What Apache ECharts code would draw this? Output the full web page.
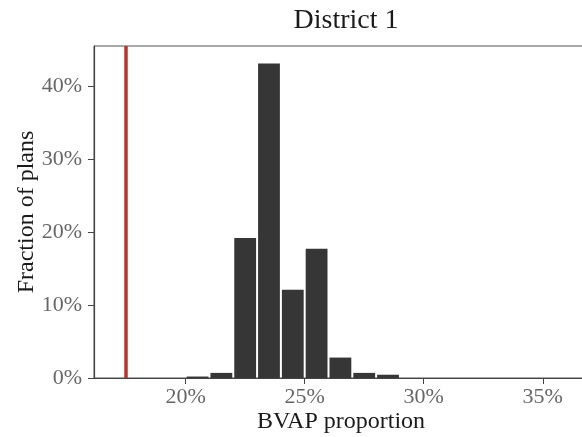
<!DOCTYPE html>
<html>
<head>
<meta charset="utf-8">
<script src="https://cdn.jsdelivr.net/npm/echarts@6/dist/echarts.min.js"></script>
<style>html,body{margin:0;padding:0;background:#fff;}#c{width:582px;height:437px;}</style>
</head>
<body>
<div id="c"></div>
<script>
// Histogram bins (BVAP proportion, %) and fraction of plans (%)
const binStarts = [20, 21, 22, 23, 24, 25, 26, 27, 28];
const binWidth = 1;
const fractions = [0.2, 0.7, 19.2, 43.1, 12.1, 17.7, 2.8, 0.7, 0.45];
const enactedValue = 17.47;
const xTicks = [20, 25, 30, 35];
const yTicks = [0, 10, 20, 30, 40];

const FONT = '"Liberation Serif", "DejaVu Serif", serif';
const chart = echarts.init(document.getElementById('c'), null, {renderer: 'canvas'});
const data = binStarts.map((s, i) => [s, s + binWidth, fractions[i]]);

chart.setOption({
  animation: false,
  backgroundColor: '#ffffff',
  title: {
    text: 'District 1',
    left: 341,
    textAlign: 'center',
    top: 2,
    textStyle: {fontFamily: FONT, fontSize: 28, fontWeight: 'normal', color: '#1a1a1a'}
  },
  grid: {left: 94, top: 46, width: 494, bottom: 59, show: true, borderColor: '#555', borderWidth: 1,
    containLabel: false, outerBoundsMode: 'none'},
  xAxis: {
    type: 'value', min: 16.15, max: 36.9,
    name: 'BVAP proportion', nameLocation: 'middle', nameGap: 32, nameMoveOverlap: false,
    nameTextStyle: {fontFamily: FONT, fontSize: 24, color: '#1a1a1a'},
    axisLine: {show: true, lineStyle: {color: '#444', width: 1.2}},
    axisTick: {show: true, length: 6, lineStyle: {color: '#444'}, customValues: xTicks},
    axisLabel: {fontFamily: FONT, fontSize: 22, color: '#666', margin: 8, customValues: xTicks,
      formatter: v => v + '%'},
    splitLine: {show: false}
  },
  yAxis: {
    type: 'value', min: 0, max: 45.5,
    name: 'Fraction of plans', nameLocation: 'middle', nameGap: 55, nameMoveOverlap: false,
    nameTextStyle: {fontFamily: FONT, fontSize: 24, color: '#1a1a1a'},
    axisLine: {show: true, lineStyle: {color: '#444', width: 1.2}},
    axisTick: {show: true, length: 6, lineStyle: {color: '#444'}, customValues: yTicks},
    axisLabel: {fontFamily: FONT, fontSize: 22, color: '#666', margin: 12, customValues: yTicks,
      formatter: v => v + '%'},
    splitLine: {show: false}
  },
  series: [{
    type: 'custom',
    data: data,
    encode: {x: [0, 1], y: 2},
    renderItem: function (params, api) {
      const p0 = api.coord([api.value(0), api.value(2)]);
      const p1 = api.coord([api.value(1), 0]);
      return {
        type: 'rect',
        shape: {x: p0[0] + 1, y: p0[1], width: p1[0] - p0[0] - 2, height: p1[1] - p0[1]},
        style: {fill: '#363636'}
      };
    },
    markLine: {
      silent: true, symbol: 'none', animation: false,
      label: {show: false},
      lineStyle: {color: '#b8352b', width: 3.5, type: 'solid'},
      data: [{xAxis: enactedValue}]
    }
  }]
});
</script>
</body>
</html>
